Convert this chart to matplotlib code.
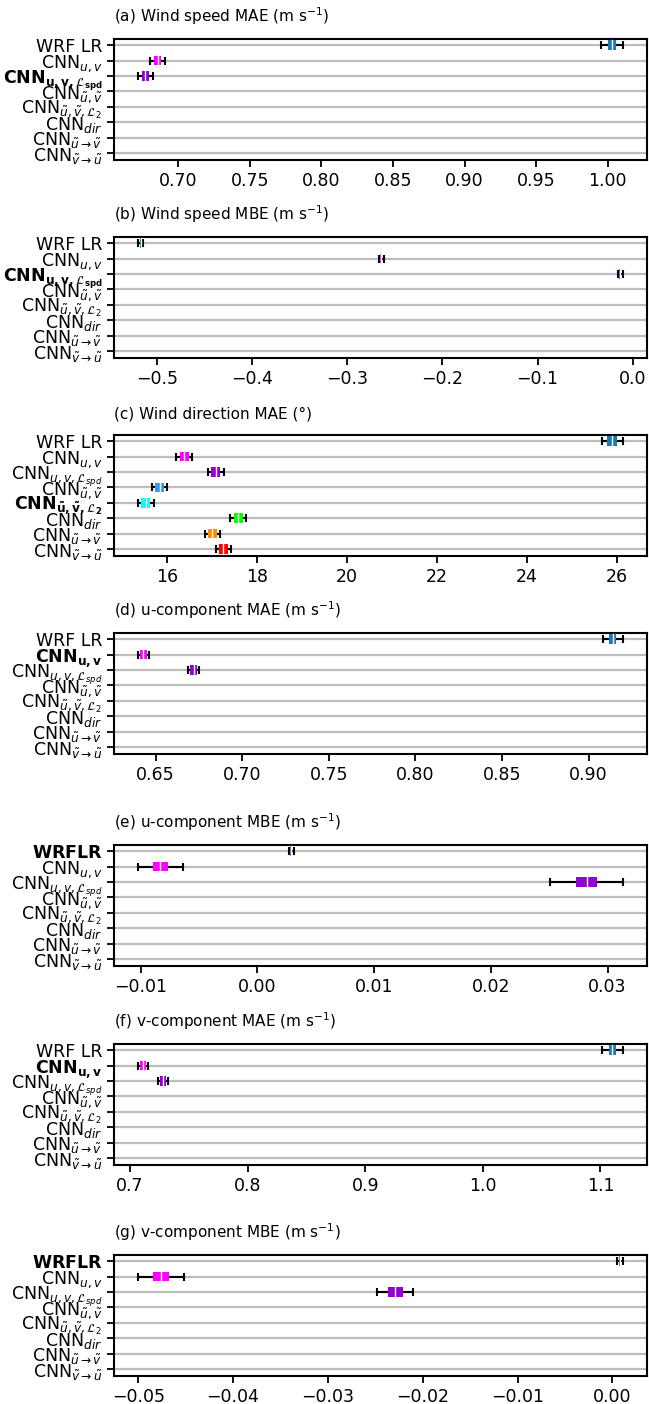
import matplotlib
matplotlib.use("Agg")
import matplotlib.pyplot as plt
import numpy as np

nan = np.nan

models = ["WRF LR", r"CNN$_{u,v}$", r"CNN$_{u,v,\mathcal{L}_{spd}}$",
          r"CNN$_{\tilde{u},\tilde{v}}$", r"CNN$_{\tilde{u},\tilde{v},\mathcal{L}_2}$",
          r"CNN$_{dir}$", r"CNN$_{\tilde{u}\rightarrow\tilde{v}}$",
          r"CNN$_{\tilde{v}\rightarrow\tilde{u}}$"]
models_bold = [r"$\mathbf{WRF LR}$", r"$\mathbf{CNN_{u,v}}$",
               r"$\mathbf{CNN_{u,v,\mathcal{L}_{spd}}}$",
               r"$\mathbf{CNN_{\tilde{u},\tilde{v}}}$",
               r"$\mathbf{CNN_{\tilde{u},\tilde{v},\mathcal{L}_2}}$",
               r"$\mathbf{CNN_{dir}}$",
               r"$\mathbf{CNN_{\tilde{u}\rightarrow\tilde{v}}}$",
               r"$\mathbf{CNN_{\tilde{v}\rightarrow\tilde{u}}}$"]
colors = ["#1f77b4", "magenta", "darkviolet", "#3a96f5", "cyan", "lime",
          "darkorange", "red"]

titles = [r"(a) Wind speed MAE (m s$^{-1}$)",
          r"(b) Wind speed MBE (m s$^{-1}$)",
          r"(c) Wind direction MAE (°)",
          r"(d) u-component MAE (m s$^{-1}$)",
          r"(e) u-component MBE (m s$^{-1}$)",
          r"(f) v-component MAE (m s$^{-1}$)",
          r"(g) v-component MBE (m s$^{-1}$)"]
best = [2, 2, 4, 1, 0, 1, 0]

# mean score per model
spd_mae = [1.003, 0.6855, 0.677, nan, nan, nan, nan, nan]
spd_mbe = [-0.517, -0.264, -0.013, nan, nan, nan, nan, nan]
dir_mae = [25.9, 16.37, 17.08, 15.83, 15.52, 17.57, 17.0, 17.24]
u_mae = [0.914, 0.643, 0.672, nan, nan, nan, nan, nan]
u_mbe = [0.0029, -0.0083, 0.0282, nan, nan, nan, nan, nan]
v_mae = [1.110, 0.711, 0.728, nan, nan, nan, nan, nan]
v_mbe = [0.0008, -0.0476, -0.0229, nan, nan, nan, nan, nan]

# half width of the box (iqr / 2)
spd_mae_box = [0.003, 0.0025, 0.0025, nan, nan, nan, nan, nan]
spd_mbe_box = [0.001, 0.001, 0.001, nan, nan, nan, nan, nan]
dir_mae_box = [0.11, 0.1, 0.1, 0.1, 0.1, 0.1, 0.1, 0.1]
u_mae_box = [0.002, 0.002, 0.002, nan, nan, nan, nan, nan]
u_mbe_box = [0.0001, 0.00064, 0.0009, nan, nan, nan, nan, nan]
v_mae_box = [0.003, 0.0025, 0.0025, nan, nan, nan, nan, nan]
v_mbe_box = [0.0001, 0.0008, 0.0008, nan, nan, nan, nan, nan]

# error bar half width
spd_mae_err = [0.0076, 0.005, 0.005, nan, nan, nan, nan, nan]
spd_mbe_err = [0.0025, 0.0025, 0.0025, nan, nan, nan, nan, nan]
dir_mae_err = [0.23, 0.17, 0.17, 0.17, 0.17, 0.17, 0.17, 0.17]
u_mae_err = [0.0057, 0.003, 0.003, nan, nan, nan, nan, nan]
u_mbe_err = [0.0002, 0.0019, 0.0031, nan, nan, nan, nan, nan]
v_mae_err = [0.009, 0.004, 0.004, nan, nan, nan, nan, nan]
v_mbe_err = [0.0003, 0.0024, 0.0019, nan, nan, nan, nan, nan]

means = [spd_mae, spd_mbe, dir_mae, u_mae, u_mbe, v_mae, v_mbe]
boxes = [spd_mae_box, spd_mbe_box, dir_mae_box, u_mae_box, u_mbe_box,
         v_mae_box, v_mbe_box]
errs = [spd_mae_err, spd_mbe_err, dir_mae_err, u_mae_err, u_mbe_err,
        v_mae_err, v_mbe_err]

W, H = 649, 1404
fig = plt.figure(figsize=(W / 100, H / 100), dpi=100)
# top edge of each panel in pixels
tops = [39, 237, 435, 633, 845, 1044, 1255]
ax_h = 121

ypos = np.arange(len(models))
for k in range(7):
    ax = fig.add_axes([114 / W, 1 - (tops[k] + ax_h) / H, 533 / W, ax_h / H])
    for i in ypos:
        ax.axhline(i, color="#bdbdbd", lw=1.6, zorder=0)
    m = np.array(means[k])
    b = np.array(boxes[k])
    e = np.array(errs[k])
    for i in ypos:
        if np.isnan(m[i]):
            continue
        ax.errorbar(m[i], i, xerr=e[i], color="k", capsize=3, lw=1.5,
                    capthick=1.5, zorder=2)
        ax.barh(i, 2 * b[i], left=m[i] - b[i], height=0.62,
                color=colors[i], zorder=3)
        ax.plot([m[i], m[i]], [i - 0.31, i + 0.31], color="white", lw=1,
                zorder=4)
    ax.set_ylim(7.45, -0.4)
    ax.set_yticks(ypos)
    labels = list(models)
    labels[best[k]] = models_bold[best[k]]
    ax.set_yticklabels(labels)
    ax.set_title(titles[k], loc="left", fontsize=11, pad=12)
    for s in ax.spines.values():
        s.set_linewidth(1.5)
    ax.tick_params(width=1.3, length=5, labelsize=12.5)

fig.savefig("out.png", dpi=100)
